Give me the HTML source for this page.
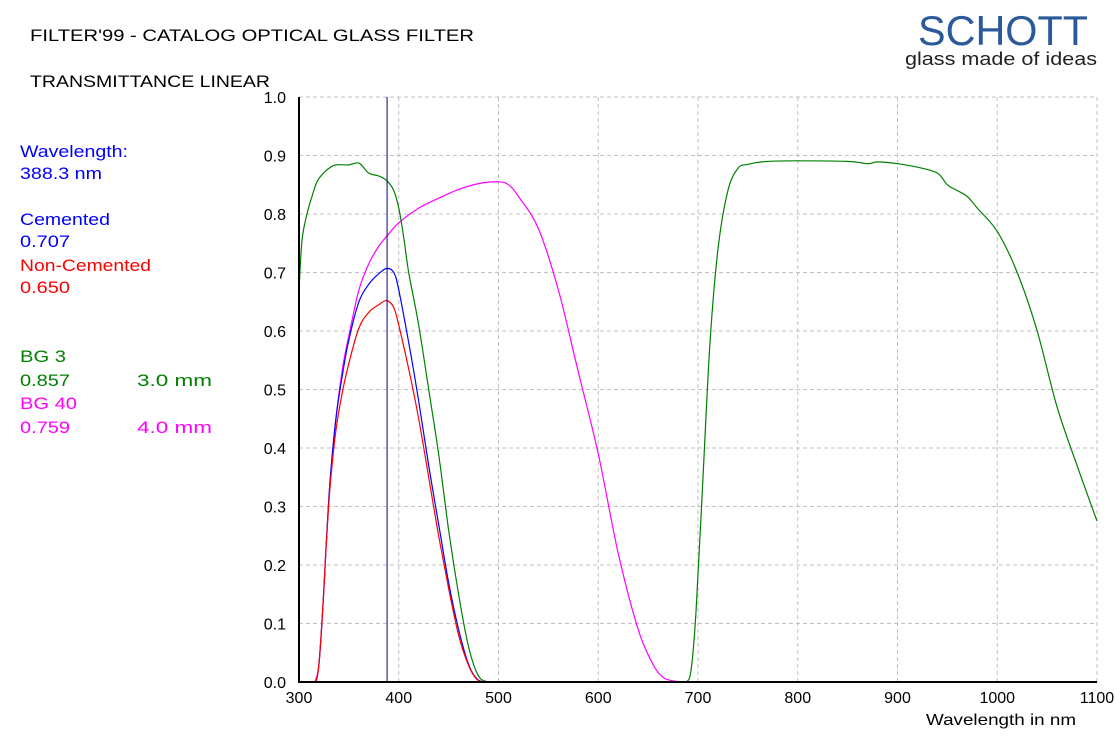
<!DOCTYPE html>
<html><head><meta charset="utf-8"><style>
body{margin:0;background:#fff;width:1117px;height:738px;overflow:hidden;font-family:"Liberation Sans",sans-serif}
</style></head><body>
<svg id="c" width="1117" height="738" style="position:absolute;left:0;top:0;font-family:'Liberation Sans',sans-serif">
<text x="30" y="41" font-size="17" textLength="444" lengthAdjust="spacingAndGlyphs">FILTER'99 - CATALOG OPTICAL GLASS FILTER</text>
<text x="30" y="87" font-size="17" textLength="240" lengthAdjust="spacingAndGlyphs">TRANSMITTANCE LINEAR</text>
<g>
<text x="1003" y="45" font-size="42" fill="#2a5a9a" text-anchor="middle" textLength="170" lengthAdjust="spacingAndGlyphs">SCHOTT</text>
<text x="1001" y="65" font-size="18" fill="#222" text-anchor="middle" textLength="192" lengthAdjust="spacingAndGlyphs">glass made of ideas</text>
</g>
<g font-size="17">
<text x="20" y="157" fill="#0000ff" textLength="108" lengthAdjust="spacingAndGlyphs">Wavelength:</text>
<text x="20" y="179" fill="#0000ff" textLength="82" lengthAdjust="spacingAndGlyphs">388.3 nm</text>
<text x="20" y="225" fill="#0000ff" textLength="90" lengthAdjust="spacingAndGlyphs">Cemented</text>
<text x="20" y="247" fill="#0000ff" textLength="50" lengthAdjust="spacingAndGlyphs">0.707</text>
<text x="20" y="271" fill="#ff0000" textLength="131" lengthAdjust="spacingAndGlyphs">Non-Cemented</text>
<text x="20" y="293" fill="#ff0000" textLength="50" lengthAdjust="spacingAndGlyphs">0.650</text>
<text x="20" y="362" fill="#008000" textLength="46" lengthAdjust="spacingAndGlyphs">BG 3</text>
<text x="20" y="386" fill="#008000" textLength="50" lengthAdjust="spacingAndGlyphs">0.857</text>
<text x="137" y="386" fill="#008000" textLength="75" lengthAdjust="spacingAndGlyphs">3.0 mm</text>
<text x="20" y="409" fill="#ff00ff" textLength="57" lengthAdjust="spacingAndGlyphs">BG 40</text>
<text x="20" y="433" fill="#ff00ff" textLength="50" lengthAdjust="spacingAndGlyphs">0.759</text>
<text x="137" y="433" fill="#ff00ff" textLength="75" lengthAdjust="spacingAndGlyphs">4.0 mm</text>
</g>
<g id="grid"></g><g id="series"></g><g id="axes"></g>
</svg>
<script>
const xTicks=[300,400,500,600,700,800,900,1000,1100];
const yTicks=[0,0.1,0.2,0.3,0.4,0.5,0.6,0.7,0.8,0.9,1.0];
const bg3X=[300,303,308,313,318,323,330,337,350,360,370,380,388,395,400,405,410,420,430,440,450,460,470,480,490,680,688,693,698,705,712,720,730,740,750,770,800,850,870,880,900,920,940,950,960,970,980,1000,1020,1040,1060,1080,1100];
const bg3Y=[0.67,0.755,0.80,0.83,0.855,0.867,0.878,0.884,0.884,0.887,0.87,0.865,0.857,0.84,0.81,0.76,0.70,0.61,0.50,0.39,0.26,0.15,0.06,0.01,0,0,0,0.02,0.12,0.35,0.58,0.74,0.84,0.878,0.885,0.89,0.891,0.89,0.886,0.889,0.886,0.88,0.87,0.85,0.84,0.83,0.81,0.77,0.70,0.60,0.47,0.37,0.275];
const bg40X=[300,316,320,324,327,331,337,344,351,360,370,380,388,400,420,440,460,480,500,510,520,540,560,580,600,620,640,655,665,675,685,1100];
const bg40Y=[0,0,0.03,0.13,0.225,0.34,0.45,0.54,0.60,0.67,0.715,0.745,0.762,0.785,0.81,0.827,0.842,0.852,0.855,0.85,0.83,0.775,0.67,0.53,0.39,0.22,0.09,0.03,0.008,0.002,0,0];
const cemX=[300,317,320,324,327,331,337,344,350,360,370,380,388,395,400,410,420,430,440,450,460,470,478,485,1100];
const cemY=[0,0,0.03,0.13,0.225,0.34,0.45,0.53,0.585,0.65,0.68,0.698,0.707,0.70,0.67,0.58,0.48,0.37,0.27,0.17,0.09,0.03,0.006,0,0];
const ncX=[300,317,320,324,327,331,337,344,350,360,370,380,388,395,400,410,420,430,440,450,460,470,478,485,1100];
const ncY=[0,0,0.03,0.13,0.225,0.33,0.43,0.50,0.545,0.605,0.632,0.645,0.652,0.64,0.61,0.535,0.45,0.35,0.25,0.16,0.08,0.028,0.005,0,0];
const cursor=388.3;
const X=v=>299+(v-300)*0.9975, Y=v=>682-v*585;
const NS='http://www.w3.org/2000/svg';
function mk(p,t,a){const e=document.createElementNS(NS,t);for(const k in a)e.setAttribute(k,a[k]);p.appendChild(e);return e;}
const grid=document.getElementById('grid'),axes=document.getElementById('axes'),ser=document.getElementById('series');
xTicks.forEach(t=>{if(t>300){const l=mk(grid,'line',{x1:X(t),x2:X(t),y1:Y(1),y2:Y(0),stroke:'#c0c0c0','stroke-dasharray':'4,3'});

}
const tx=mk(axes,'text',{x:X(t),y:703,'font-size':16,'text-anchor':'middle'});tx.textContent=t;

});
yTicks.forEach(t=>{if(t>0){const l=mk(grid,'line',{x1:X(300),x2:X(1100),y1:Y(t),y2:Y(t),stroke:'#c0c0c0','stroke-dasharray':'4,3'});

}
const tx=mk(axes,'text',{x:286,y:Y(t)+6,'font-size':16,'text-anchor':'end'});tx.textContent=t.toFixed(1);

});
function line(xs,ys,c,n){
 const P=xs.map((x,i)=>[X(x),Y(ys[i])]);
 let d='M'+P[0][0].toFixed(1)+','+P[0][1].toFixed(1);
 const y0=Y(0);
 for(let i=0;i<P.length-1;i++){
  const p1=P[i],p2=P[i+1];
  const g=p2[0]-p1[0];
  if(g>60||(p1[1]===y0&&p2[1]===y0)){d+='L'+p2[0].toFixed(1)+','+p2[1].toFixed(1);continue;}
  let p0=P[Math.max(0,i-1)],p3=P[Math.min(P.length-1,i+2)];
  if(p1[0]-p0[0]>3*g)p0=p1;
  if(p3[0]-p2[0]>3*g)p3=p2;
  let c1x=p1[0]+(p2[0]-p0[0])/6,c1y=p1[1]+(p2[1]-p0[1])/6;
  let c2x=p2[0]-(p3[0]-p1[0])/6,c2y=p2[1]-(p3[1]-p1[1])/6;
  c1y=Math.min(c1y,y0);c2y=Math.min(c2y,y0);
  d+='C'+c1x.toFixed(1)+','+c1y.toFixed(1)+' '+c2x.toFixed(1)+','+c2y.toFixed(1)+' '+p2[0].toFixed(1)+','+p2[1].toFixed(1);
 }
 const p=mk(ser,'path',{d:d,fill:'none',stroke:c,'stroke-width':1.2});
 
 }
line(bg40X,bg40Y,'#ff00ff','bg40-line');
line(bg3X,bg3Y,'#008000','bg3-line');
line(cemX,cemY,'#0000ff','cemented-line');
line(ncX,ncY,'#ff0000','non-cemented-line');
const cl=mk(axes,'line',{x1:X(cursor),x2:X(cursor),y1:Y(1),y2:Y(0),stroke:'#000080','stroke-width':1});


const ya=mk(axes,'line',{x1:X(300),x2:X(300),y1:Y(1),y2:Y(0)+1,stroke:'#000','stroke-width':2});


const xa=mk(axes,'line',{x1:X(300),x2:X(1100),y1:Y(0),y2:Y(0),stroke:'#000','stroke-width':2});


const xt=mk(axes,'text',{x:1076,y:725,'font-size':16,'text-anchor':'end',textLength:150,lengthAdjust:'spacingAndGlyphs'});xt.textContent='Wavelength in nm';


</script>
</body></html>
